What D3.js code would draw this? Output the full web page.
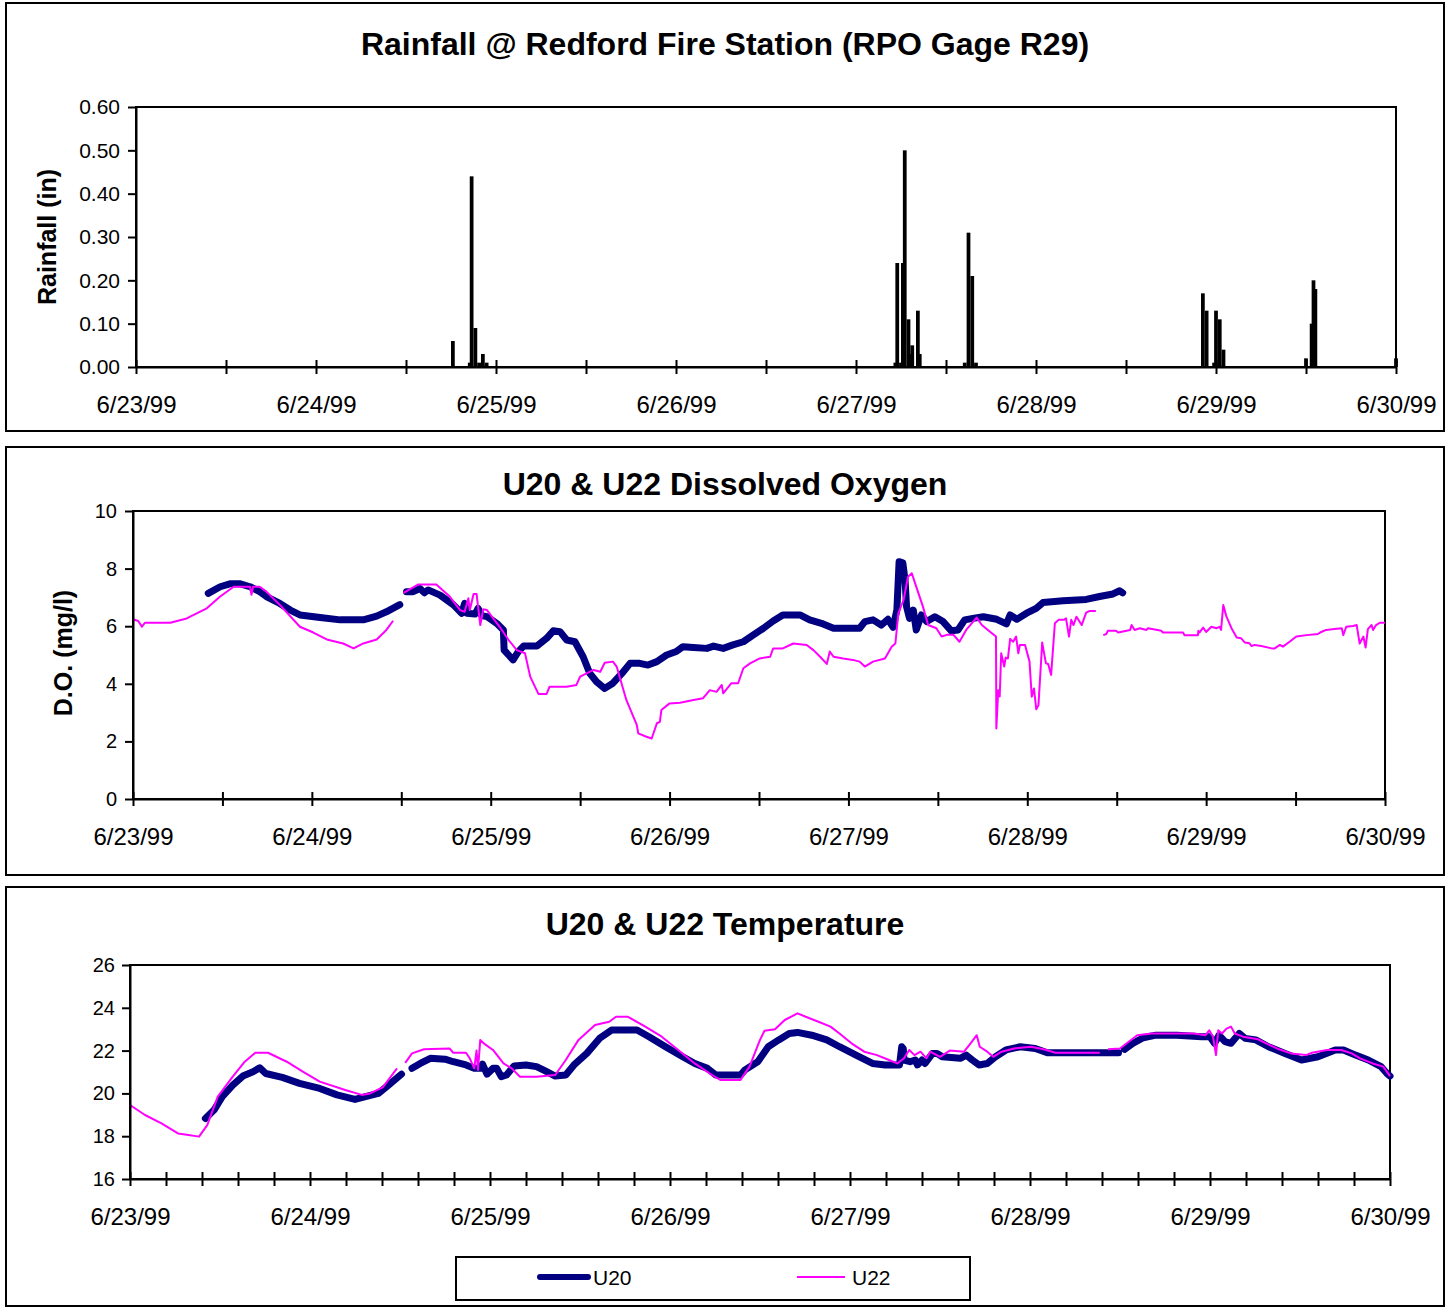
<!DOCTYPE html>
<html><head><meta charset="utf-8">
<script src="https://cdn.jsdelivr.net/npm/d3@7"></script>
<style>
body{margin:0;background:#fff}
text{font-family:"Liberation Sans",Arial,sans-serif;fill:#000}
</style>
</head><body>
<svg id="chart" width="1453" height="1308"></svg>
<script>
// ---------------- DATA ----------------
const dateLabels = ["6/23/99","6/24/99","6/25/99","6/26/99","6/27/99","6/28/99","6/29/99","6/30/99"];
const titles = ["Rainfall @ Redford Fire Station (RPO Gage R29)","U20 & U22 Dissolved Oxygen","U20 & U22 Temperature"];
const yLabels = ["Rainfall (in)","D.O. (mg/l)"];
const seriesNames = ["U20","U22"];
const rainYTicks = [0,0.1,0.2,0.3,0.4,0.5,0.6];
const doYTicks = [0,2,4,6,8,10];
const tempYTicks = [16,18,20,22,24,26];

// hours after 6/23/99 00:00
const rainHours = [42.0,44.25,44.5,45.0,45.5,46.0,46.5,
  101.0,101.25,101.75,102.0,102.25,102.75,103.0,103.25,104.0,104.25,
  110.25,110.75,111.25,111.75,
  142.0,142.5,143.5,143.75,144.25,144.75,
  155.75,156.5,156.75,157.0,167.75];
const rainValues = [0.06,0.01,0.44,0.09,0.01,0.03,0.01,
  0.01,0.24,0.01,0.24,0.50,0.11,0.03,0.05,0.13,0.03,
  0.01,0.31,0.21,0.01,
  0.17,0.13,0.01,0.13,0.11,0.04,
  0.02,0.10,0.20,0.18,0.02];

const doU20 = [
 [10.1,7.14],[11.7,7.37],[13.0,7.47],[14.4,7.47],[15.7,7.37],[17.0,7.2],[17.9,7.03],[19.7,6.79],[21.1,6.56],[22.4,6.39],[25.1,6.3],[27.8,6.22],[30.9,6.22],[32.7,6.35],[34.0,6.5],[35.8,6.75],
 null,
 [36.7,7.2],[37.6,7.2],[38.5,7.31],[39.1,7.16],[39.6,7.26],[41.2,7.08],[43.0,6.74],[44.1,6.45],[44.5,6.79],[44.8,6.45],[45.9,6.42],[46.3,6.62],[46.8,6.37],[47.5,6.33],[48.8,6.1],[49.7,5.87],[49.8,5.17],[50.4,5.0],[51.0,4.83],[51.7,5.12],[52.4,5.31],[54.2,5.31],[55.5,5.58],[56.4,5.84],[57.3,5.81],
 [58.2,5.52],[59.3,5.46],[60.4,4.94],[61.3,4.36],[62.2,4.07],[63.3,3.84],[64.4,4.02],[65.6,4.36],[66.7,4.71],[68.0,4.71],[69.1,4.65],[70.3,4.77],[71.6,5.0],[72.9,5.12],[73.8,5.29],[75.2,5.26],[77.0,5.23],[77.9,5.31],[79.2,5.23],[80.5,5.35],[81.9,5.46],[83.2,5.69],[84.6,5.93],[85.9,6.18],[87.2,6.39],[89.5,6.39],[90.8,6.22],[92.6,6.08],[94.0,5.93],[97.5,5.93],[98.2,6.16],[99.3,6.22],[100.4,6.04],[101.3,6.24],[102.0,5.96],[102.5,6.56],[102.8,8.24],[103.3,8.2],[103.6,7.6],[103.8,6.68],[104.2,6.27],[104.7,6.56],[105.1,5.87],[105.8,6.39],[106.5,6.16],[107.6,6.33],[108.7,6.16],[109.8,5.84],
 [110.7,5.87],[111.6,6.22],[112.7,6.27],[114.1,6.33],[115.9,6.24],[117.2,6.08],[117.7,6.39],[118.6,6.24],[119.9,6.45],[121.2,6.62],[122.1,6.82],[124.8,6.88],[127.9,6.93],[129.7,7.03],[131.5,7.12],[132.4,7.23],[132.8,7.16]
];

const doU22 = [
 [0,6.24],[0.7,6.18],[1.2,5.98],[1.6,6.12],[5.0,6.12],[7.2,6.27],[9.9,6.62],[11.7,7.03],[13.5,7.37],[15.7,7.37],[15.9,7.09],[16.1,7.37],[17.0,7.37],[17.9,7.2],[19.7,6.74],[22.4,5.98],[24.2,5.78],[26.0,5.54],[28.2,5.4],[29.6,5.23],[30.9,5.4],[32.7,5.54],[34.0,5.87],[34.9,6.19],
 null,
 [36.3,7.16],[38.3,7.45],[40.7,7.45],[42.5,7.03],[43.9,6.56],[44.5,6.5],[45.0,6.97],[45.2,6.56],[45.7,7.12],[46.1,7.12],[46.6,6.04],[47.0,6.59],[47.5,6.56],[49.2,5.98],[50.4,5.52],[51.5,5.17],[52.6,5.06],[53.3,4.25],[54.4,3.65],[55.5,3.65],[55.9,3.9],[58.2,3.9],[59.5,3.96],[60.0,4.25],[61.8,4.48],[62.7,4.42],[63.3,4.73],[64.4,4.77],[64.9,4.6],[66.2,3.44],[67.6,2.57],[67.8,2.28],[68.9,2.16],[69.6,2.1],[70.3,2.63],[70.7,2.68],[70.9,3.09],[72.0,3.32],[73.4,3.34],[75.2,3.44],[76.5,3.5],[77.4,3.78],[78.3,3.72],[79.0,3.96],[79.2,3.67],[80.3,4.02],[81.2,4.02],[81.9,4.54],[82.8,4.71],[84.1,4.88],[85.5,4.94],[85.9,5.23],[87.2,5.23],[88.6,5.4],[90.4,5.35],[91.3,5.17],[92.2,4.94],[93.1,4.69],[93.5,5.12],[94.0,4.94],[95.3,4.88],[96.6,4.83],[97.5,4.77],[98.2,4.6],[99.3,4.77],[100.9,4.88],[101.8,5.29],[102.3,5.4],[102.7,6.45],[103.4,6.91],[104.0,7.72],[104.5,7.84],[105.4,7.14],[106.0,6.68],[106.7,6.04],[107.8,5.93],[108.5,5.64],[109.2,5.7],[110.1,5.7],[110.9,5.46],[111.8,5.87],[113.2,6.3],[113.9,6.04],[115.0,5.81],[115.8,5.64],[115.85,2.45],[116.1,3.78],[116.3,3.56],[116.5,5.06],[116.9,4.6],[117.1,4.91],[117.4,4.88],[117.7,5.56],[118.1,5.46],[118.5,5.64],[118.8,5.06],[119.0,5.35],[119.7,5.35],[120.3,4.77],[120.6,3.55],[120.9,3.84],[121.2,3.12],[121.5,3.26],[122.0,5.43],[122.5,4.71],[122.8,4.69],[123.2,4.31],[123.7,6.1],[124.2,6.22],[124.9,6.22],[125.2,6.27],[125.6,5.64],[125.9,6.22],[126.2,6.04],[126.6,6.33],[127.3,6.04],[127.9,6.47],[128.4,6.53],[129.2,6.53],
 null,
 [130.2,5.69],[130.6,5.73],[130.8,5.84],[131.9,5.84],[132.2,5.78],[133.8,5.87],[134.0,6.04],[134.4,5.87],[135.1,5.93],[136.0,5.87],[136.2,5.93],[138.0,5.84],[138.2,5.78],[140.9,5.78],[141.1,5.69],[142.9,5.69],[142.95,5.84],[143.1,5.78],[143.6,5.95],[144.0,5.8],[144.7,5.98],[145.4,5.93],[145.8,5.98],[146.0,5.87],[146.3,6.74],[146.7,6.35],[147.4,5.93],[148.1,5.61],[148.7,5.58],[149.2,5.43],[149.8,5.41],[150.1,5.31],[150.5,5.35],[151.4,5.31],[152.8,5.23],[153.2,5.23],[153.9,5.35],[154.3,5.29],[155.2,5.46],[156.1,5.64],[157.5,5.69],[159.0,5.73],[159.3,5.78],[160.1,5.87],[161.2,5.9],[162.2,5.93],[162.4,5.69],[162.8,5.98],[163.7,6.01],[164.2,6.04],[164.6,5.4],[165.1,5.64],[165.4,5.26],[165.7,5.9],[166.2,6.04],[166.4,5.87],[166.8,6.04],[167.3,6.12],[168.0,6.12]
];

const tempU20 = [
 [10.05,18.83],[11.2,19.22],[12.3,19.85],[13.7,20.39],[15.05,20.81],[16.4,21.01],[17.3,21.2],[18.1,20.93],[20.3,20.75],[22.6,20.47],[25.3,20.23],[27.6,19.93],[30.0,19.72],[31.4,19.85],[33.1,20.0],[34.2,20.31],[36.2,20.9],
 null,
 [37.6,21.17],[38.7,21.4],[40.05,21.64],[42.0,21.6],[43.1,21.48],[44.8,21.33],[45.9,21.17],[46.7,21.17],[47.0,21.37],[47.6,20.9],[48.4,21.17],[48.9,21.17],[49.5,20.78],[50.2,20.86],[51.2,21.28],[52.8,21.33],[54.2,21.25],[55.3,21.06],[56.7,20.81],[58.1,20.86],[59.2,21.33],[60.9,21.87],[62.6,22.57],[64.2,22.96],[67.6,22.96],[69.2,22.65],[71.4,22.18],[73.7,21.71],[75.3,21.4],[77.0,21.17],[78.1,20.86],[81.4,20.86],[82.0,21.1],[83.7,21.48],[85.1,22.18],[86.5,22.5],[87.9,22.8],[89.0,22.85],[90.9,22.72],[92.9,22.5],[94.6,22.18],[96.8,21.79],[99.0,21.4],[100.7,21.33],[102.6,21.33],[102.9,22.18],[103.1,22.1],[103.2,21.56],[104.0,21.48],[104.7,21.56],[105.0,21.33],[105.6,21.56],[106.0,21.4],[107.0,21.87],[107.6,21.87],[108.3,21.71],[110.7,21.64],[111.5,21.79],[112.3,21.56],[113.2,21.33],[114.3,21.4],[115.4,21.71],[116.8,22.03],[118.7,22.18],[120.7,22.1],[122.3,21.9],[131.8,21.9],
 null,
 [132.6,22.06],[133.7,22.34],[135.1,22.6],[136.8,22.72],[139.6,22.72],[142.9,22.65],[144.0,22.65],[144.6,22.34],[145.2,22.72],[146.0,22.42],[146.8,22.34],[147.9,22.8],[148.7,22.57],[150.1,22.5],[151.8,22.18],[154.0,21.87],[156.2,21.56],[158.4,21.71],[160.7,22.03],[161.8,22.03],[163.4,21.79],[165.1,21.56],[166.8,21.25],[167.6,20.93],[168.0,20.81]
];

const tempU22 = [
 [0,19.46],[2.0,18.99],[4.2,18.6],[6.4,18.13],[7.8,18.06],[9.2,17.98],[10.3,18.52],[11.7,19.85],[13.7,20.78],[15.3,21.48],[16.7,21.9],[18.4,21.9],[20.9,21.48],[23.1,21.01],[25.3,20.55],[28.7,20.16],[30.9,19.93],[32.0,20.0],[33.7,20.28],[35.6,21.17],
 null,
 [36.7,21.43],[37.6,21.87],[39.2,22.06],[42.6,22.1],[43.1,21.9],[44.8,21.9],[45.3,21.64],[45.9,21.17],[46.2,22.0],[46.4,21.1],[46.7,22.5],[47.3,22.3],[48.4,22.03],[49.8,21.4],[50.9,21.17],[52.0,20.78],[54.2,20.78],[56.7,20.86],[58.1,21.56],[59.8,22.5],[62.0,23.2],[63.9,23.35],[64.8,23.58],[66.4,23.58],[68.7,23.12],[70.9,22.65],[73.1,22.03],[75.3,21.4],[77.6,20.86],[78.7,20.63],[81.4,20.63],[82.6,21.25],[84.0,22.5],[84.6,22.93],[86.0,23.0],[87.3,23.43],[89.0,23.74],[90.1,23.58],[91.8,23.35],[93.4,23.12],[94.6,22.8],[96.2,22.34],[97.9,21.95],[99.6,21.79],[101.2,21.56],[102.3,21.4],[103.2,21.64],[103.9,22.03],[104.6,21.79],[105.4,21.95],[106.2,21.64],[106.7,21.95],[108.0,21.71],[109.3,22.0],[111.2,21.95],[111.9,22.26],[112.9,22.72],[113.3,22.18],[114.3,21.95],[115.1,21.71],[116.2,21.95],[117.9,22.1],[120.1,22.18],[121.8,22.06],[123.4,21.9],[129.3,21.9],
 null,
 [130.4,22.06],[132.0,22.1],[132.9,22.34],[134.3,22.72],[136.2,22.8],[139.6,22.8],[141.8,22.8],[143.4,22.72],[143.9,22.95],[144.4,22.65],[144.8,21.79],[145.1,22.95],[145.6,22.8],[146.2,23.03],[146.8,23.12],[147.3,22.8],[148.4,22.65],[150.4,22.53],[151.5,22.34],[153.2,22.06],[154.8,21.87],[156.8,21.79],[157.6,21.9],[159.6,22.03],[161.5,22.03],[162.9,21.87],[164.0,21.64],[165.7,21.4],[167.1,21.25],[168.0,20.81]
];

// ---------------- DRAW ----------------
const base = new Date(1999,5,23,0,0,0);
const toDate = h => new Date(base.getTime() + h*3600e3);
const tEnd = toDate(168);
const svg = d3.select("#chart");
const U20C = "#000080", U22C = "#FF00FF";

function frame(y, h){
  svg.append("rect").attr("x",6).attr("y",y).attr("width",1438).attr("height",h)
    .attr("fill","none").attr("stroke","#000").attr("stroke-width",2);
}
function title(txt, y){
  svg.append("text").attr("x",725).attr("y",y).attr("text-anchor","middle")
    .attr("font-size",32).attr("font-weight","bold").text(txt);
}
function ylabel(txt, x, y){
  svg.append("text").attr("transform",`translate(${x},${y}) rotate(-90)`)
    .attr("text-anchor","middle").attr("font-size",25).attr("font-weight","bold").text(txt);
}
function plotBox(x, y){
  svg.append("rect").attr("x",x.range()[0]).attr("y",y.range()[1])
    .attr("width",x.range()[1]-x.range()[0]).attr("height",y.range()[0]-y.range()[1])
    .attr("fill","none").attr("stroke","#000").attr("stroke-width",2);
}
function xAxis(x, y, stepH){
  const ticks = d3.range(0, 168 + 1e-6, stepH).map(toDate);
  const g = svg.append("g").attr("transform",`translate(0,${y.range()[0]})`)
    .call(d3.axisBottom(x).tickValues(ticks).tickSize(7).tickSizeOuter(0)
      .tickFormat(d => {
        const h = Math.round((d - base)/3600e3);
        return h % 24 === 0 ? dateLabels[h/24] : "";
      }));
  g.select(".domain").attr("stroke","#000").attr("stroke-width",2);
  g.selectAll(".tick line").attr("y1",-7).attr("y2",7).attr("stroke","#000").attr("stroke-width",2);
  g.selectAll(".tick text").attr("y",46).attr("dy",0).attr("font-size",24)
    .attr("font-family","Liberation Sans, Arial, sans-serif").attr("fill","#000");
}
function yAxis(x, y, ticks, fmt, fs, pad){
  const g = svg.append("g").attr("transform",`translate(${x.range()[0]},0)`)
    .call(d3.axisLeft(y).tickValues(ticks).tickSize(8).tickSizeOuter(0).tickPadding(pad).tickFormat(fmt));
  g.select(".domain").attr("stroke","#000").attr("stroke-width",2);
  g.selectAll(".tick line").attr("stroke","#000").attr("stroke-width",2);
  g.selectAll(".tick text").attr("font-size",fs).attr("font-family","Liberation Sans, Arial, sans-serif").attr("fill","#000");
}
function lineGen(x, y){
  return d3.line().defined(d => d != null).x(d => x(toDate(d[0]))).y(d => y(d[1]));
}

// ---- Panel 1: Rainfall ----
frame(3, 428);
title(titles[0], 55);
const x1 = d3.scaleTime().domain([base, tEnd]).range([136, 1396]);
const y1 = d3.scaleLinear().domain([0, 0.6]).range([367, 107]);
plotBox(x1, y1);
svg.append("g").selectAll("rect").data(rainHours.map((h,i)=>({h, v: rainValues[i]})))
  .join("rect")
  .attr("x", d => x1(toDate(d.h)))
  .attr("width", d => x1(toDate(d.h + 0.5)) - x1(toDate(d.h)))
  .attr("y", d => y1(d.v))
  .attr("height", d => y1(0) - y1(d.v))
  .attr("fill","#000");
yAxis(x1, y1, rainYTicks, d3.format(".2f"), 21, 8);
xAxis(x1, y1, 12);
ylabel(yLabels[0], 56, 237);

// ---- Panel 2: Dissolved Oxygen ----
frame(447, 428);
title(titles[1], 495);
const x2 = d3.scaleTime().domain([base, tEnd]).range([133, 1385]);
const y2 = d3.scaleLinear().domain([0, 10]).range([799, 511]);
plotBox(x2, y2);
svg.append("path").datum(doU20).attr("d", lineGen(x2,y2)).attr("fill","none")
  .attr("stroke",U20C).attr("stroke-width",7).attr("stroke-linejoin","round").attr("stroke-linecap","round");
svg.append("path").datum(doU22).attr("d", lineGen(x2,y2)).attr("fill","none")
  .attr("stroke",U22C).attr("stroke-width",2).attr("stroke-linejoin","round");
yAxis(x2, y2, doYTicks, d3.format("d"), 20, 8);
xAxis(x2, y2, 12);
ylabel(yLabels[1], 72, 653);

// ---- Panel 3: Temperature ----
frame(887, 419);
title(titles[2], 935);
const x3 = d3.scaleTime().domain([base, tEnd]).range([130, 1390]);
const y3 = d3.scaleLinear().domain([16, 26]).range([1179, 965]);
plotBox(x3, y3);
svg.append("path").datum(tempU20).attr("d", lineGen(x3,y3)).attr("fill","none")
  .attr("stroke",U20C).attr("stroke-width",7).attr("stroke-linejoin","round").attr("stroke-linecap","round");
svg.append("path").datum(tempU22).attr("d", lineGen(x3,y3)).attr("fill","none")
  .attr("stroke",U22C).attr("stroke-width",2).attr("stroke-linejoin","round");
yAxis(x3, y3, tempYTicks, d3.format("d"), 20, 7);
xAxis(x3, y3, 4.8);

// ---- Legend ----
const lg = svg.append("g");
lg.append("rect").attr("x",456).attr("y",1257).attr("width",514).attr("height",43)
  .attr("fill","#fff").attr("stroke","#000").attr("stroke-width",2);
const legendItems = [
  {name: seriesNames[0], color: U20C, w: 6, x0: 540, x1: 588, tx: 593},
  {name: seriesNames[1], color: U22C, w: 2, x0: 797, x1: 845, tx: 852}
];
legendItems.forEach(it => {
  lg.append("line").attr("x1",it.x0).attr("x2",it.x1).attr("y1",1277).attr("y2",1277)
    .attr("stroke",it.color).attr("stroke-width",it.w).attr("stroke-linecap", it.w > 3 ? "round" : "butt");
  lg.append("text").attr("x",it.tx).attr("y",1285).attr("font-size",21).text(it.name);
});
</script>
</body></html>
